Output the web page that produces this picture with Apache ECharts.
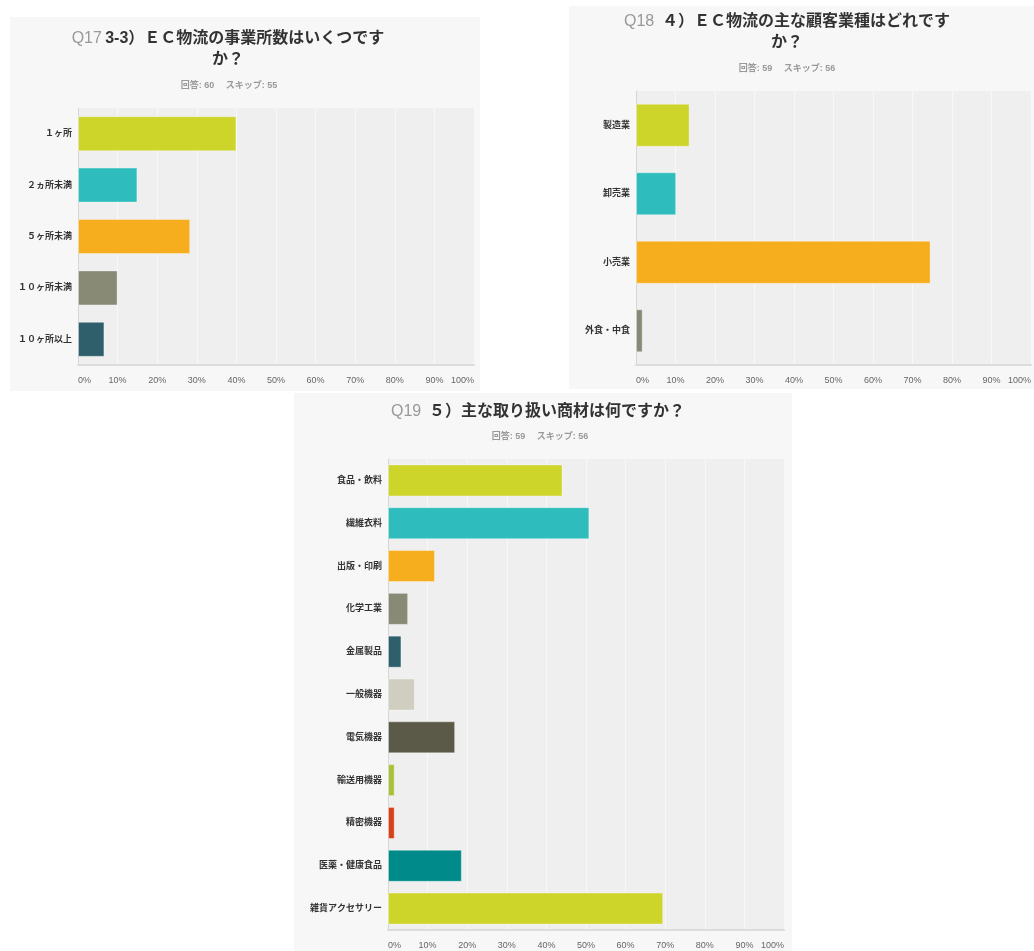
<!DOCTYPE html>
<html>
<head>
<meta charset="utf-8">
<script src="https://cdn.jsdelivr.net/npm/echarts@6/dist/echarts.min.js"></script>
<style>
  html, body { margin: 0; padding: 0; background: #fff; }
  #main { width: 1034px; height: 951px; }
</style>
</head>
<body>
<div id="main"></div>
<script>
// Q17 事業所数
var q17Categories = ['１ヶ所', '２ヵ所未満', '５ヶ所未満', '１０ヶ所未満', '１０ヶ所以上'];
var q17Values = [40.0, 15.0, 28.33, 10.0, 6.67];

// Q18 顧客業種
var q18Categories = ['製造業', '卸売業', '小売業', '外食・中食'];
var q18Values = [13.56, 10.17, 74.58, 1.69];

// Q19 取り扱い商材
var q19Categories = ['食品・飲料', '繊維衣料', '出版・印刷', '化学工業', '金属製品', '一般機器',
    '電気機器', '輸送用機器', '精密機器', '医薬・健康食品', '雑貨アクセサリー'];
var q19Values = [44.07, 50.85, 11.86, 5.08, 3.39, 6.78, 16.95, 1.69, 1.69, 18.64, 69.49];

var palette = ['#cdd42a', '#2fbcbd', '#f6ad1e', '#888a76', '#2e5f6b',
    '#d0cec0', '#5b5a48', '#a8c13a', '#d4421c', '#008b8a'];

var fontFamily = "'Liberation Sans', 'Noto Sans CJK JP', sans-serif";

var myChart = echarts.init(document.getElementById('main'));

function xAxisFor(gridIndex) {
    return {
        gridIndex: gridIndex,
        type: 'value',
        min: 0,
        max: 100,
        interval: 10,
        axisLine: {show: true, lineStyle: {color: '#dcdcdc', width: 2}},
        axisTick: {show: false},
        splitLine: {show: true, lineStyle: {color: '#f8f8f8', width: 1}},
        axisLabel: {
            formatter: '{value}%',
            color: '#666',
            fontSize: 9,
            margin: 11,
            alignMinLabel: 'left',
            alignMaxLabel: 'right'
        }
    };
}

function yAxisFor(gridIndex, cats) {
    return {
        gridIndex: gridIndex,
        type: 'category',
        inverse: true,
        data: cats,
        axisLine: {show: true, lineStyle: {color: '#d6d6d6', width: 1}},
        axisTick: {show: false},
        axisLabel: {color: '#333', fontSize: 9, fontWeight: 'bold', margin: 6}
    };
}

function barSeries(idx, values, width) {
    return {
        type: 'bar',
        xAxisIndex: idx,
        yAxisIndex: idx,
        data: values,
        barWidth: width,
        itemStyle: {
            color: function (p) { return palette[p.dataIndex % palette.length]; },
            borderColor: 'rgba(255,255,255,0.35)',
            borderWidth: 1
        },
        silent: true
    };
}

function titleLine(x, y, q, text) {
    var parts = q ? '{q|' + q + '} {t|' + text + '}' : '{t|' + text + '}';
    return {
        type: 'text',
        x: x,
        y: y,
        z: 10,
        style: {
            text: parts,
            align: 'center',
            verticalAlign: 'middle',
            rich: {
                q: {fontSize: 16, fill: '#999', fontFamily: fontFamily},
                t: {fontSize: 16, fill: '#333', fontWeight: 'bold', fontFamily: fontFamily}
            }
        }
    };
}

function subLine(x, y, text) {
    return {
        type: 'text',
        x: x,
        y: y,
        z: 10,
        style: {
            text: text,
            align: 'center',
            verticalAlign: 'middle',
            fontSize: 9,
            fontWeight: 'bold',
            fill: '#999',
            fontFamily: fontFamily
        }
    };
}

function panel(x, y, w, h) {
    return {type: 'rect', shape: {x: x, y: y, width: w, height: h}, style: {fill: '#f7f7f7'}, z: -10};
}

option = {
    textStyle: {fontFamily: fontFamily},
    animation: false,
    graphic: [
        panel(10, 17, 470, 374),
        panel(569, 6, 465, 383),
        panel(294, 393, 498, 558),
        titleLine(228, 39, 'Q17', '3-3）ＥＣ物流の事業所数はいくつです'),
        titleLine(228, 60, null, 'か？'),
        subLine(229, 86, '回答: 60　 スキップ: 55'),
        titleLine(787, 22, 'Q18', ' ４）ＥＣ物流の主な顧客業種はどれです'),
        titleLine(787, 43, null, 'か？'),
        subLine(787, 69, '回答: 59　 スキップ: 56'),
        titleLine(538, 412, 'Q19', ' ５）主な取り扱い商材は何ですか？'),
        subLine(540, 437, '回答: 59　 スキップ: 56')
    ],
    grid: [
        {left: 78, top: 108, width: 396, height: 257, show: true, backgroundColor: '#efefef', borderWidth: 0},
        {left: 636, top: 91, width: 396, height: 274, show: true, backgroundColor: '#efefef', borderWidth: 0},
        {left: 388, top: 459, width: 396, height: 471, show: true, backgroundColor: '#efefef', borderWidth: 0}
    ],
    xAxis: [xAxisFor(0), xAxisFor(1), xAxisFor(2)],
    yAxis: [
        yAxisFor(0, q17Categories),
        yAxisFor(1, q18Categories),
        yAxisFor(2, q19Categories)
    ],
    series: [
        barSeries(0, q17Values, 35),
        barSeries(1, q18Values, 43),
        barSeries(2, q19Values, 32)
    ]
};

myChart.setOption(option);
</script>
</body>
</html>
